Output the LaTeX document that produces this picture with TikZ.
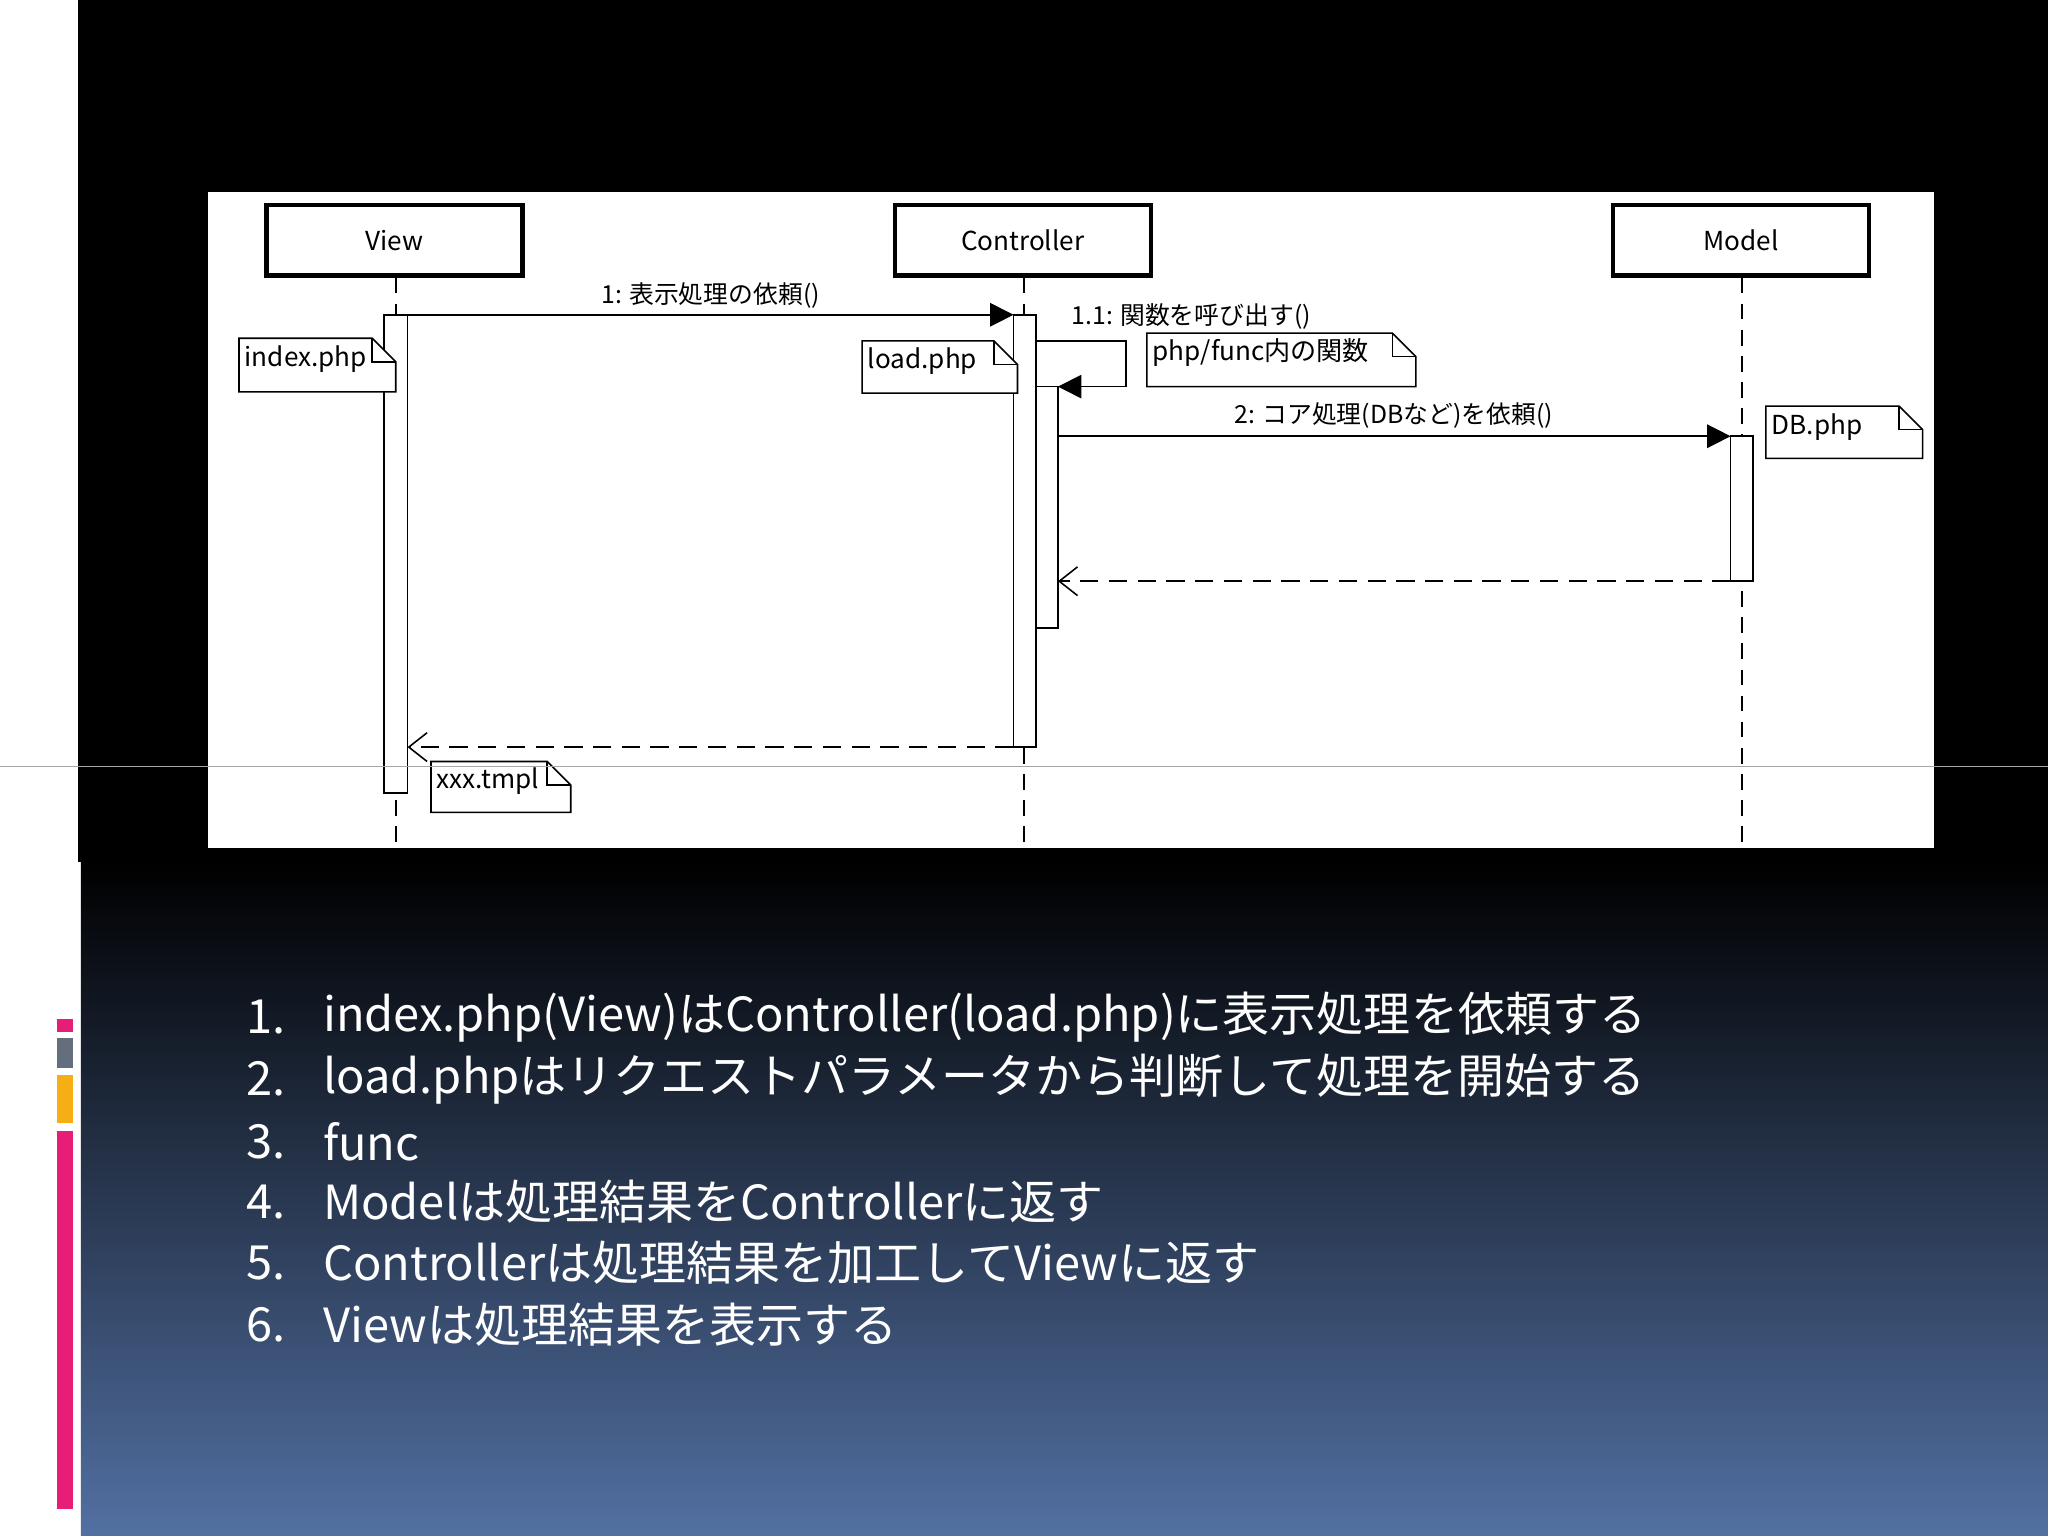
\documentclass[tikz,border=0pt]{standalone}
\usepackage{fontspec}
\setmainfont{Noto Sans CJK JP}
\usetikzlibrary{arrows.meta}
\definecolor{bgblue}{RGB}{82,112,162}
\definecolor{mpink}{RGB}{230,30,120}
\definecolor{mgrey}{RGB}{100,110,125}
\definecolor{morange}{RGB}{245,175,20}
\tikzset{
 lbox/.style={draw,line width=1.6pt,minimum width=98pt,minimum height=27pt,font=\fontsize{10}{12}\selectfont,inner sep=0pt,fill=white},
 act/.style={draw,fill=white,line width=0.6pt},
 life/.style={dashed,line width=0.7pt,dash pattern=on 6pt off 4pt},
 msg/.style={line width=0.6pt,-{Triangle[length=9pt,width=9pt]}},
 ret/.style={line width=0.6pt,dash pattern=on 7pt off 4pt,-{Straight Barb[length=7pt,width=11pt]}},
 lbl/.style={font=\fontsize{9.5}{11}\selectfont,inner sep=1pt},
 note/.style={font=\fontsize{10}{12}\selectfont,inner sep=1pt,anchor=north west,text depth=0pt},
 item/.style={font=\fontsize{18}{20}\selectfont,text=white,anchor=west,inner sep=0pt}
}
\newcommand{\notedraw}[5]{% x1 y1 x2 y2 text
 \node[note] (#5) at (#1+2,#2+3) {#5};
 \draw[line width=0.6pt,fill=white] (#1,#2) -- (#3-18,#2) -- (#3,#4*0+#2+18) -- (#3,#4) -- (#1,#4) -- cycle;
 \draw[line width=0.6pt] (#3-18,#2) -- (#3-18,#2+18) -- (#3,#2+18);
}
\begin{document}
\begin{tikzpicture}[x=0.5pt,y=-0.5pt]
\useasboundingbox (0,0) rectangle (1568,1176);
\fill[white] (0,0) rectangle (1568,1176);
\fill[black] (62,0) rectangle (1568,660);
\shade[top color=black,bottom color=bgblue] (62,660) rectangle (1568,1176);
% left decorations
\foreach \x in {37,40,43,46,49,52,55,58} \fill[white] (\x,115) rectangle (\x+1.5,180);
\fill[black] (60,0) rectangle (62,660);
\fill[mpink] (44,780) rectangle (56,790);
\fill[mgrey] (44,795) rectangle (56,818);
\fill[morange] (44,823) rectangle (56,860);
\fill[mpink] (44,866) rectangle (56,1155);
% panel
\fill[white] (159,147) rectangle (1481,649);
% lifeline boxes
\node[lbox,minimum width=98pt] (view) at (302,184) {View};
\node[lbox] (ctrl) at (783,184) {Controller};
\node[lbox] (model) at (1333,184) {Model};
\coordinate (vend) at (303,647);
\coordinate (cend) at (784,647);
\coordinate (mend) at (1334,647);
\draw[life] (view.south -| vend) -- (vend);
\draw[life] (ctrl.south -| cend) -- (cend);
\draw[life] (model.south -| mend) -- (mend);
% activations
\draw[act] (294,241) rectangle (312,607);
\draw[act] (776,241) rectangle (793,572);
\draw[act] (793,296) rectangle (810,481);
\draw[act] (1325,334) rectangle (1342,445);
\coordinate (a1) at (312,241); \coordinate (b1) at (776,241);
\draw[msg] (a1) -- (b1) node[lbl,midway,above=1pt] {1: 表示処理の依頼()};
\coordinate (s1) at (793,261); \coordinate (s2) at (810,296);
\draw[msg] (s1) -- (862,261) -- (862,296) -- (s2);
\node[lbl] (l11) at (912,242) {1.1: 関数を呼び出す()};
\coordinate (a2) at (810,334); \coordinate (b2) at (1325,334);
\draw[msg] (a2) -- (b2);
\node[lbl] (l2) at (1067,318) {2: コア処理(DBなど)を依頼()};
\coordinate (r1) at (1325,445); \coordinate (r2) at (810,445);
\draw[ret] (r1) -- (r2);
\coordinate (r3) at (776,572); \coordinate (r4) at (312,572);
\draw[ret] (r3) -- (r4);
% notes
\notedraw{183}{259}{303}{300}{index.php}
\notedraw{660}{261}{779}{301}{load.php}
\notedraw{878}{255}{1084}{296}{php/func内の関数}
\notedraw{1352}{311}{1472}{351}{DB.php}
\notedraw{330}{583}{437}{622}{xxx.tmpl}
\node[note] at (185,262) {index.php};
\node[note] at (662,264) {load.php};
\node[note] at (880,257) {php/func内の関数};
\node[note] at (1354,314) {DB.php};
\node[note] at (332,585) {xxx.tmpl};
% horizontal line
\draw[gray!70,line width=0.5pt] (0,587) -- (1568,587);
% list
\foreach \n/\y/\t in {1/779/index.php(View)はController(load.php)に表示処理を依頼する,
 2/826/load.phpはリクエストパラメータから判断して処理を開始する,
 3/874/func/xxx.phpはModel(php/class)に処理を依頼する,
 4/920/Modelは処理結果をControllerに返す,
 5/967/Controllerは処理結果を加工してViewに返す,
 6/1014/Viewは処理結果を表示する}{
 \node[item] (n\n) at (188,\y) {\n.};
 \node[item] (t\n) at (247,\y) {\t};
}
\end{tikzpicture}
\end{document}
